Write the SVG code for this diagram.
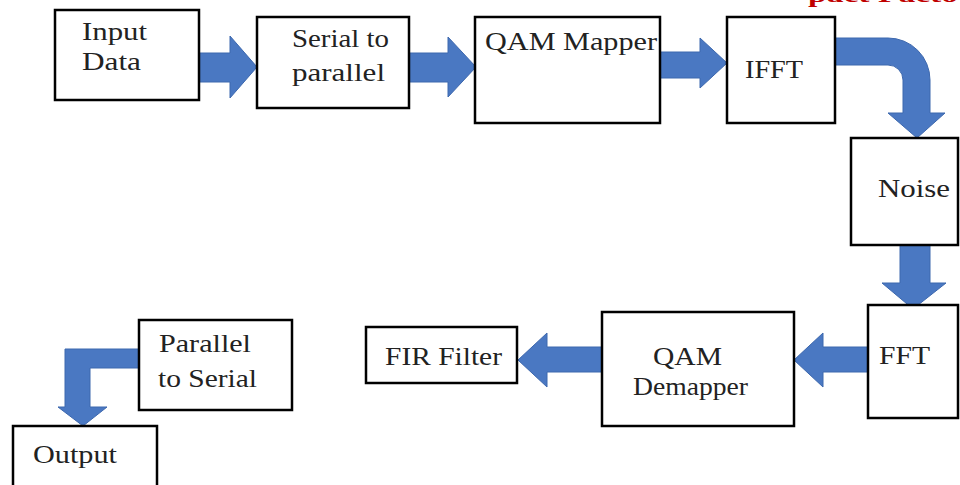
<svg xmlns="http://www.w3.org/2000/svg" width="960" height="485" viewBox="0 0 960 485">
<style>
.box{fill:#fff;stroke:#000;stroke-width:2.5}
.t{font-family:"Liberation Serif","Times New Roman",serif;font-size:26px;fill:#222}
.arr{fill:#4a78c2;stroke:#3d68ae;stroke-width:1}
.red{font-family:"Liberation Serif","Times New Roman",serif;font-size:22px;font-weight:bold;fill:#c00000}
</style>
<rect x="0" y="0" width="960" height="485" fill="#fff"/>
<text class="red" x="808" y="1.5" textLength="150" lengthAdjust="spacingAndGlyphs">pact Facto</text>
<g id="connectors">
<path class="arr" d="M199,53 L230,53 L230,36 L257,67 L230,98 L230,82 L199,82 Z"/>
<path class="arr" d="M409,53 L448,53 L448,37 L476,67 L448,97 L448,82 L409,82 Z"/>
<path class="arr" d="M660,52 L700,52 L700,38 L727,63 L700,88 L700,78 L660,78 Z"/>
<path class="arr" d="M835,38 L888,38 A42,42 0 0 1 930,80 L930,113 L945,113 L917,138 L888,113 L903,113 L903,80 A15,15 0 0 0 888,65 L835,65 Z"/>
<path class="arr" d="M900,245 L930,245 L930,283 L946,283 L913,309 L882,283 L900,283 Z"/>
<path class="arr" d="M868,347 L823,347 L823,333 L794,360 L823,387 L823,372 L868,372 Z"/>
<path class="arr" d="M602,347 L547,347 L547,333 L518,360 L547,387 L547,372 L602,372 Z"/>
<path class="arr" d="M139,349 L65,349 L65,407 L58,407 L83,426 L107,407 L90,407 L90,368 L139,368 Z"/>
</g>
<g id="input-data">
<rect class="box" x="55" y="10" width="144" height="90"/>
<text class="t" x="82" y="40" textLength="65" lengthAdjust="spacingAndGlyphs">Input</text>
<text class="t" x="82" y="70" textLength="59" lengthAdjust="spacingAndGlyphs">Data</text>
</g>
<g id="serial-to-parallel">
<rect class="box" x="257" y="17" width="152" height="91"/>
<text class="t" x="292" y="47" textLength="97" lengthAdjust="spacingAndGlyphs">Serial to</text>
<text class="t" x="292" y="81" textLength="93" lengthAdjust="spacingAndGlyphs">parallel</text>
</g>
<g id="qam-mapper">
<rect class="box" x="475" y="17" width="185" height="106"/>
<text class="t" x="485" y="50" textLength="172" lengthAdjust="spacingAndGlyphs">QAM Mapper</text>
</g>
<g id="ifft">
<rect class="box" x="727" y="17" width="108" height="106"/>
<text class="t" x="745" y="78" textLength="58" lengthAdjust="spacingAndGlyphs">IFFT</text>
</g>
<g id="noise">
<rect class="box" x="851" y="138" width="107" height="107"/>
<text class="t" x="878" y="197" textLength="72" lengthAdjust="spacingAndGlyphs">Noise</text>
</g>
<g id="fft">
<rect class="box" x="868" y="305" width="90" height="113"/>
<text class="t" x="879" y="364" textLength="51" lengthAdjust="spacingAndGlyphs">FFT</text>
</g>
<g id="qam-demapper">
<rect class="box" x="602" y="312" width="192" height="114"/>
<text class="t" x="653" y="365" textLength="69" lengthAdjust="spacingAndGlyphs">QAM</text>
<text class="t" x="633" y="395" textLength="115" lengthAdjust="spacingAndGlyphs">Demapper</text>
</g>
<g id="fir-filter">
<rect class="box" x="366" y="327" width="151" height="56"/>
<text class="t" x="385" y="365" textLength="117" lengthAdjust="spacingAndGlyphs">FIR Filter</text>
</g>
<g id="parallel-to-serial">
<rect class="box" x="139" y="320" width="153" height="90"/>
<text class="t" x="159" y="352" textLength="92" lengthAdjust="spacingAndGlyphs">Parallel</text>
<text class="t" x="158" y="387" textLength="99" lengthAdjust="spacingAndGlyphs">to Serial</text>
</g>
<g id="output">
<rect class="box" x="13" y="426" width="144" height="70"/>
<text class="t" x="33" y="463" textLength="84" lengthAdjust="spacingAndGlyphs">Output</text>
</g>
</svg>
